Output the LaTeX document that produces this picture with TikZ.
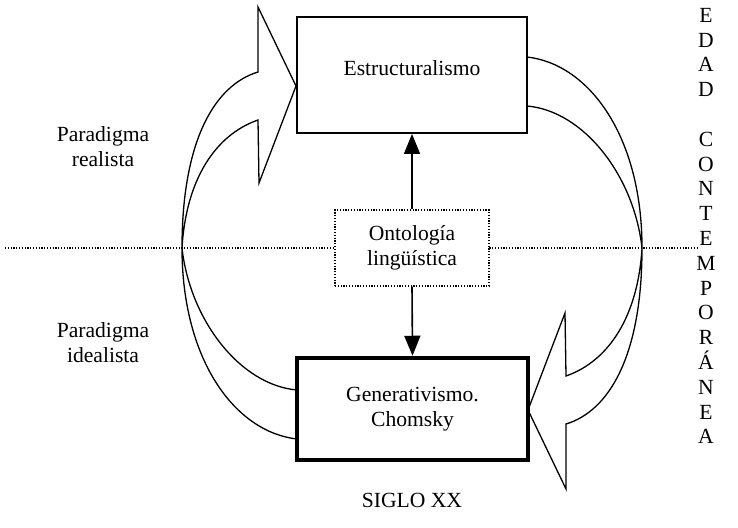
\documentclass[tikz,border=0pt]{standalone}
\usepackage{fontspec}
\setmainfont{Liberation Serif}
\usetikzlibrary{arrows.meta}
\begin{document}
\begin{tikzpicture}[x=1pt,y=-1pt,
  txt/.style={font=\fontsize{21.6}{24.8}\selectfont, align=center, inner sep=0pt},
  plainbox/.style={draw, fill=white, line width=1.8pt},
  thickbox/.style={txt, draw, fill=white, line width=4.5pt},
  dotbox/.style={txt, draw, fill=white, line width=1.4pt, dash pattern=on 1.2pt off 1.6pt},
  divider/.style={line width=1.3pt, dash pattern=on 1.2pt off 1.6pt},
  link/.style={line width=1.6pt, -{Triangle[length=20pt,width=16pt]}},
  bentarrow/.style={draw, line width=1.3pt, line join=miter, fill=white}
]
\useasboundingbox (0,0) rectangle (738,527);

% horizontal divider between the two paradigms
\coordinate (hl) at (5,248);
\coordinate (hr) at (698,248);
\draw[divider] (hl) -- (hr);

% curved block arrow on the left: from the generativist box up to the structuralist box
\path[bentarrow] (297,439) .. controls (235,432) and (182,360) .. (182,248)
  .. controls (182,140) and (215,85) .. (258,72) -- (258,7) -- (296,86) -- (259,183) -- (258,120)
  .. controls (215,135) and (186,180) .. (182,248)
  .. controls (190,320) and (240,385) .. (297,390);

% the same arrow turned half a revolution on the right
\begin{scope}[rotate around={180:(412,248)}]
\path[bentarrow] (297,439) .. controls (235,432) and (182,360) .. (182,248)
  .. controls (182,140) and (215,85) .. (258,72) -- (258,7) -- (296,86) -- (259,183) -- (258,120)
  .. controls (215,135) and (186,180) .. (182,248)
  .. controls (190,320) and (240,385) .. (297,390);
\end{scope}

% main boxes
\node[plainbox, minimum width=230pt, minimum height=116pt] (est) at (412,75) {};
\node[txt] (estlabel) at (412,68) {Estructuralismo};
\node[thickbox, minimum width=231pt, minimum height=102pt] (gen) at (412.5,409) {Generativismo.\\Chomsky};
\node[dotbox, minimum width=154pt, minimum height=76pt] (onto) at (412,248) {Ontología\\lingüística};

% links from the ontology box
\draw[link] (onto.north) -- (est.south);
\draw[link] (onto.south) -- (gen.north);

% side labels
\node[txt] (real) at (103,147) {Paradigma\\realista};
\node[txt] (ideal) at (103,343) {Paradigma\\idealista};
\node[txt] (siglo) at (412,500) {SIGLO XX};
\node[txt] (edad) at (706,226) {E\\D\\A\\D\\\mbox{}\\C\\O\\N\\T\\E\\M\\P\\O\\R\\Á\\N\\E\\A};
\end{tikzpicture}
\end{document}
